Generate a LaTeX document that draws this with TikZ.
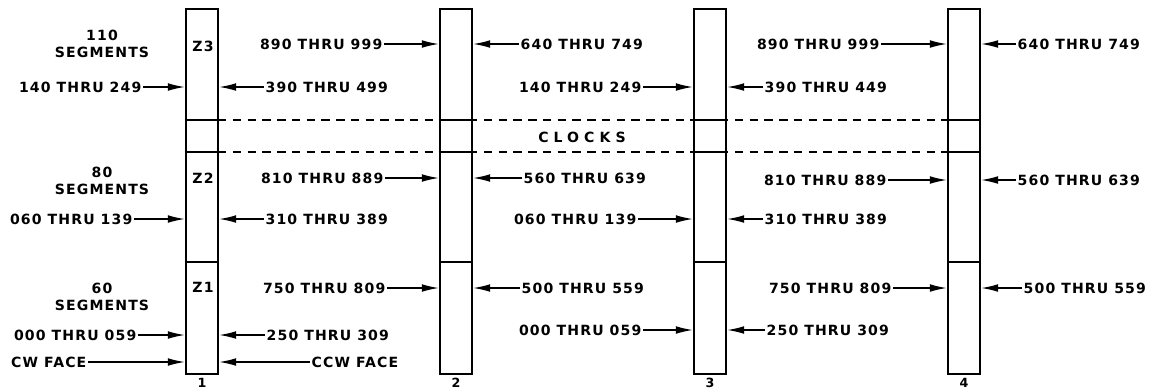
\documentclass[tikz,border=0pt]{standalone}
\usepackage{fontspec}
\newfontfamily\lettering{DejaVu Sans Bold}[LetterSpace=8]
\usetikzlibrary{arrows.meta,positioning}

\begin{document}
\begin{tikzpicture}[x=0.025cm, y=-0.025cm,
    lab/.style={font=\lettering\fontsize{10}{12}\selectfont, inner sep=1pt},
    bar/.style={draw, line width=1.8pt, minimum width=0.8cm, minimum height=9.125cm, inner sep=0pt},
    arr/.style={line width=0.9pt, -{Latex[length=12pt,width=5.5pt]}},
    clk/.style={line width=1pt, dash pattern=on 6pt off 4.5pt}]
  \useasboundingbox (0,0) rectangle (1159,391);
  % clock band
  \foreach \y in {120,152}
    \draw[clk] (218,\y) -- (947,\y);
  \node[lab, font=\lettering\fontsize{10}{12}\selectfont\addfontfeature{LetterSpace=36}] (clocks) at (582,137) {CLOCKS};
  % bars
  \foreach \i in {1,...,4} {
    \node[bar] (bar\i) at ({202+254*(\i-1)},191.5) {};
    \node[lab, font=\lettering\fontsize{9}{10}\selectfont, below=1pt of bar\i] (num\i) {\i};
    \foreach \y in {120,152,262}
      \draw[line width=1.8pt] (bar\i.west |- 0,\y) -- (bar\i.east |- 0,\y);
  }
  % zones of bar 1
  \foreach \z/\y in {3/46,2/178,1/287}
    \node[lab] (z\z) at (203,\y) {Z\z};
  \foreach \n/\y [count=\k] in {110/35, 80/172, 60/288} {
    \node[lab] (cnt\k) at (102,\y) {\n};
    \node[lab] (seg\k) at (102,\y+17) {SEGMENTS};
  }
  % ranges fed from the left
  \foreach \txt/\x/\y/\b [count=\k] in {140 THRU 249/143/87/1, 060 THRU 139/134/219/1,
      000 THRU 059/138/335/1, CW FACE/88/362/1, 890 THRU 999/384/44/2, 810 THRU 889/385/178/2,
      750 THRU 809/387/288/2, 140 THRU 249/643/87/3, 060 THRU 139/638/219/3,
      000 THRU 059/643/330/3, 890 THRU 999/881/44/4, 810 THRU 889/888/180/4,
      750 THRU 809/893/288/4} {
    \node[lab, anchor=east] (in\k) at (\x,\y) {\txt};
    \draw[arr] (in\k.east) -- (in\k.east -| bar\b.west);
  }
  % ranges fed from the right
  \foreach \txt/\x/\y/\b [count=\k] in {390 THRU 499/264/87/1, 310 THRU 389/264/219/1,
      250 THRU 309/265/335/1, CCW FACE/310/362/1, 640 THRU 749/519/44/2, 560 THRU 639/522/178/2,
      500 THRU 559/520/288/2, 390 THRU 449/763/87/3, 310 THRU 389/763/219/3,
      250 THRU 309/765/330/3, 640 THRU 749/1016/44/4, 560 THRU 639/1016/180/4,
      500 THRU 559/1022/288/4} {
    \node[lab, anchor=west] (out\k) at (\x,\y) {\txt};
    \draw[arr] (out\k.west) -- (out\k.west -| bar\b.east);
  }
\end{tikzpicture}
\end{document}
